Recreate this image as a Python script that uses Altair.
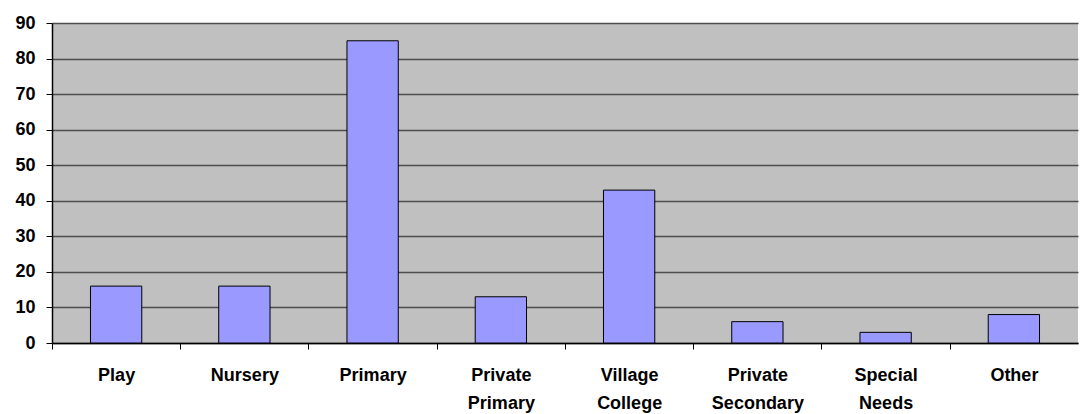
import altair as alt
import pandas as pd

categories = ["Play", "Nursery", "Primary", "Private Primary", "Village College",
              "Private Secondary", "Special Needs", "Other"]
values = [16, 16, 85, 13, 43, 6, 3, 8]

df = pd.DataFrame({"category": categories, "value": values})

font = "Liberation Sans"
plot_w = 1026
step = plot_w / len(categories)

chart = alt.Chart(df).mark_bar(
    color="#9999FF", stroke="#000000", strokeWidth=1
).encode(
    x=alt.X("category:N", sort=categories, title=None,
            scale=alt.Scale(paddingInner=0.6, paddingOuter=0.3),
            axis=alt.Axis(labelAngle=0, labelExpr="split(datum.label, ' ')",
                          labelFont=font, labelFontSize=18, labelFontWeight="bold",
                          labelColor="#000000", labelPadding=17, labelLineHeight=28,
                          labelBaseline="top", labelOffset=step / 2,
                          domainColor="#000000", domainWidth=1.5,
                          tickColor="#000000", tickSize=6, tickWidth=1,
                          tickOffset=-step / 2, grid=False)),
    y=alt.Y("value:Q", title=None,
            scale=alt.Scale(domain=[0, 90], nice=False),
            axis=alt.Axis(values=list(range(0, 100, 10)),
                          labelFont=font, labelFontSize=18, labelFontWeight="bold",
                          labelColor="#000000", labelPadding=11,
                          domainColor="#000000", domainWidth=1.5,
                          tickColor="#000000", tickSize=6, tickWidth=1,
                          grid=True, gridColor="#4d4d4d", gridWidth=1.3)),
).properties(
    width=plot_w, height=320,
    background="#FFFFFF",
    autosize=alt.AutoSizeParams(type="none"),
    padding={"left": 44, "top": 15, "right": 1, "bottom": 71},
).configure_view(
    fill="#C0C0C0", strokeWidth=0
)

chart.save("out.html", embed_options={"renderer": "svg", "actions": False})
